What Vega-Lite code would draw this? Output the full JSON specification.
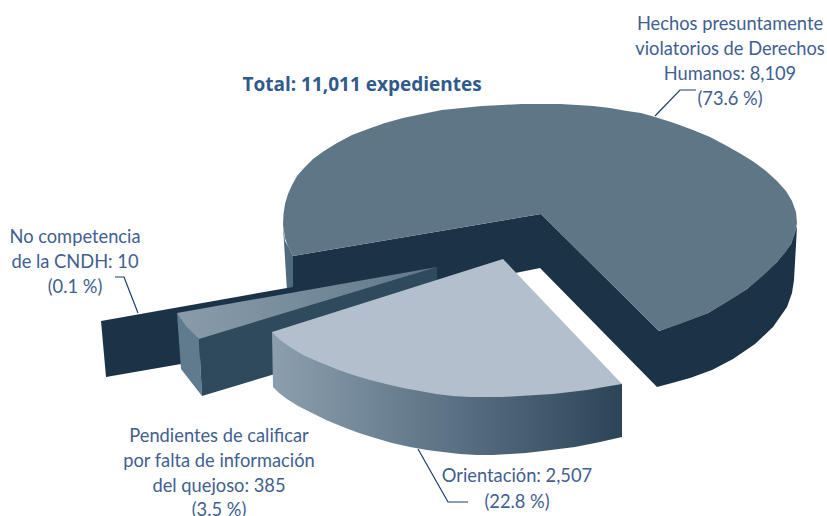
{"$schema":"https://vega.github.io/schema/vega-lite/v6.json","width":827,"height":516,"autosize":{"type":"none"},"padding":0,"background":"white","view":{"stroke":null},
"datasets":{"shapes":[
{"part":"leftwall","i":1,"x":283,"y":226},{"part":"leftwall","i":2,"x":285,"y":241},{"part":"leftwall","i":3,"x":293,"y":256},{"part":"leftwall","i":4,"x":296,"y":290},{"part":"leftwall","i":5,"x":287,"y":291},
{"part":"dark","i":1,"x":293,"y":256},{"part":"dark","i":2,"x":541,"y":214},{"part":"dark","i":3,"x":659,"y":331},{"part":"dark","i":4,"x":708,"y":313},{"part":"dark","i":5,"x":747,"y":289},{"part":"dark","i":6,"x":777,"y":262},{"part":"dark","i":7,"x":791,"y":244},{"part":"dark","i":8,"x":797,"y":226},{"part":"dark","i":9,"x":796,"y":245},{"part":"dark","i":10,"x":795,"y":262},{"part":"dark","i":11,"x":794,"y":280},{"part":"dark","i":12,"x":792,"y":293},{"part":"dark","i":13,"x":787,"y":307},{"part":"dark","i":14,"x":773,"y":327},{"part":"dark","i":15,"x":755,"y":344},{"part":"dark","i":16,"x":733,"y":359},{"part":"dark","i":17,"x":712,"y":370},{"part":"dark","i":18,"x":690,"y":378},{"part":"dark","i":19,"x":672,"y":383},{"part":"dark","i":20,"x":657,"y":387},{"part":"dark","i":21,"x":540,"y":268},{"part":"dark","i":22,"x":500,"y":276},{"part":"dark","i":23,"x":293,"y":310},
{"part":"top","i":1,"x":541,"y":214},{"part":"top","i":2,"x":293,"y":256},{"part":"top","i":3,"x":288,"y":247},{"part":"top","i":4,"x":285,"y":238},{"part":"top","i":5,"x":283,"y":225},{"part":"top","i":6,"x":283.5,"y":214},{"part":"top","i":7,"x":285,"y":204},{"part":"top","i":8,"x":288,"y":194},{"part":"top","i":9,"x":292,"y":185},{"part":"top","i":10,"x":297,"y":176},{"part":"top","i":11,"x":304,"y":168},{"part":"top","i":12,"x":313,"y":159},{"part":"top","i":13,"x":324,"y":151},{"part":"top","i":14,"x":337,"y":143},{"part":"top","i":15,"x":352,"y":135},{"part":"top","i":16,"x":368,"y":129},{"part":"top","i":17,"x":385,"y":123},{"part":"top","i":18,"x":403,"y":118},{"part":"top","i":19,"x":422,"y":114},{"part":"top","i":20,"x":442,"y":110},{"part":"top","i":21,"x":462,"y":108},{"part":"top","i":22,"x":482,"y":106},{"part":"top","i":23,"x":502,"y":105},{"part":"top","i":24,"x":522,"y":104},{"part":"top","i":25,"x":542,"y":104},{"part":"top","i":26,"x":560,"y":104},{"part":"top","i":27,"x":577,"y":105},{"part":"top","i":28,"x":593,"y":106},{"part":"top","i":29,"x":610,"y":108},{"part":"top","i":30,"x":627,"y":111},{"part":"top","i":31,"x":641,"y":113},{"part":"top","i":32,"x":655,"y":117},{"part":"top","i":33,"x":674,"y":123},{"part":"top","i":34,"x":693,"y":130},{"part":"top","i":35,"x":710,"y":137},{"part":"top","i":36,"x":727,"y":146},{"part":"top","i":37,"x":741,"y":154},{"part":"top","i":38,"x":754,"y":162},{"part":"top","i":39,"x":766,"y":171},{"part":"top","i":40,"x":777,"y":181},{"part":"top","i":41,"x":786,"y":191},{"part":"top","i":42,"x":792,"y":201},{"part":"top","i":43,"x":796,"y":212},{"part":"top","i":44,"x":797,"y":223},{"part":"top","i":45,"x":795,"y":234},{"part":"top","i":46,"x":791,"y":244},{"part":"top","i":47,"x":785,"y":253},{"part":"top","i":48,"x":777,"y":262},{"part":"top","i":49,"x":768,"y":271},{"part":"top","i":50,"x":758,"y":280},{"part":"top","i":51,"x":747,"y":289},{"part":"top","i":52,"x":735,"y":297},{"part":"top","i":53,"x":722,"y":305},{"part":"top","i":54,"x":708,"y":313},{"part":"top","i":55,"x":693,"y":319},{"part":"top","i":56,"x":677,"y":325},{"part":"top","i":57,"x":659,"y":331},
{"part":"slab","i":1,"x":101,"y":321},{"part":"slab","i":2,"x":287,"y":288},{"part":"slab","i":3,"x":437,"y":262},{"part":"slab","i":4,"x":437,"y":270},{"part":"slab","i":5,"x":181,"y":364},{"part":"slab","i":6,"x":106,"y":377},
{"part":"wedgeside","i":1,"x":177,"y":313},{"part":"wedgeside","i":2,"x":199,"y":339},{"part":"wedgeside","i":3,"x":202,"y":396},{"part":"wedgeside","i":4,"x":181,"y":369},
{"part":"wedgefront","i":1,"x":199,"y":339},{"part":"wedgefront","i":2,"x":437,"y":267},{"part":"wedgefront","i":3,"x":437,"y":290},{"part":"wedgefront","i":4,"x":275,"y":374},{"part":"wedgefront","i":5,"x":202,"y":396},
{"part":"wedgetop","i":1,"x":437,"y":267},{"part":"wedgetop","i":2,"x":177,"y":313},{"part":"wedgetop","i":3,"x":186,"y":326},{"part":"wedgetop","i":4,"x":199,"y":339},
{"part":"orientwall","i":1,"x":272,"y":332},{"part":"orientwall","i":2,"x":622,"y":384},{"part":"orientwall","i":3,"x":622,"y":437},{"part":"orientwall","i":4,"x":600,"y":442},{"part":"orientwall","i":5,"x":575,"y":447},{"part":"orientwall","i":6,"x":559,"y":449},{"part":"orientwall","i":7,"x":543,"y":451},{"part":"orientwall","i":8,"x":526,"y":453},{"part":"orientwall","i":9,"x":510,"y":454},{"part":"orientwall","i":10,"x":493,"y":455},{"part":"orientwall","i":11,"x":477,"y":455},{"part":"orientwall","i":12,"x":460,"y":454},{"part":"orientwall","i":13,"x":443,"y":452},{"part":"orientwall","i":14,"x":427,"y":450},{"part":"orientwall","i":15,"x":410,"y":447},{"part":"orientwall","i":16,"x":392,"y":443},{"part":"orientwall","i":17,"x":375,"y":438},{"part":"orientwall","i":18,"x":359,"y":433},{"part":"orientwall","i":19,"x":343,"y":427},{"part":"orientwall","i":20,"x":326,"y":420},{"part":"orientwall","i":21,"x":310,"y":412},{"part":"orientwall","i":22,"x":298,"y":406},{"part":"orientwall","i":23,"x":287,"y":399},{"part":"orientwall","i":24,"x":279,"y":393},{"part":"orientwall","i":25,"x":273,"y":387},
{"part":"orienttop","i":1,"x":503,"y":259},{"part":"orienttop","i":2,"x":272,"y":332},{"part":"orienttop","i":3,"x":280,"y":340},{"part":"orienttop","i":4,"x":290,"y":347},{"part":"orienttop","i":5,"x":303,"y":355},{"part":"orienttop","i":6,"x":319,"y":362},{"part":"orienttop","i":7,"x":336,"y":369},{"part":"orienttop","i":8,"x":353,"y":375},{"part":"orienttop","i":9,"x":370,"y":380},{"part":"orienttop","i":10,"x":386,"y":384},{"part":"orienttop","i":11,"x":403,"y":388},{"part":"orienttop","i":12,"x":420,"y":391},{"part":"orienttop","i":13,"x":436,"y":394},{"part":"orienttop","i":14,"x":453,"y":396},{"part":"orienttop","i":15,"x":470,"y":397},{"part":"orienttop","i":16,"x":487,"y":397},{"part":"orienttop","i":17,"x":503,"y":397},{"part":"orienttop","i":18,"x":520,"y":396},{"part":"orienttop","i":19,"x":536,"y":395},{"part":"orienttop","i":20,"x":553,"y":394},{"part":"orienttop","i":21,"x":570,"y":392},{"part":"orienttop","i":22,"x":587,"y":390},{"part":"orienttop","i":23,"x":604,"y":387},{"part":"orienttop","i":24,"x":622,"y":384},
{"part":"l1","i":1,"x":655,"y":116},{"part":"l1","i":2,"x":680,"y":90},{"part":"l1","i":3,"x":696,"y":90},
{"part":"l2","i":1,"x":115,"y":277},{"part":"l2","i":2,"x":124,"y":277},{"part":"l2","i":3,"x":138,"y":313},
{"part":"l3","i":1,"x":418,"y":449},{"part":"l3","i":2,"x":448,"y":502},{"part":"l3","i":3,"x":468,"y":502}
],
"labels":[
{"t":"Hechos presuntamente","x":730,"y":30},{"t":"violatorios de Derechos","x":730,"y":55},{"t":"Humanos: 8,109","x":730,"y":80},{"t":"(73.6 %)","x":730,"y":105},
{"t":"No competencia","x":75,"y":243},{"t":"de la CNDH: 10","x":75,"y":268},{"t":"(0.1 %)","x":75,"y":293},
{"t":"Pendientes de calificar","x":219,"y":442},{"t":"por falta de información","x":219,"y":467},{"t":"del quejoso: 385","x":219,"y":492},{"t":"(3.5 %)","x":219,"y":516},
{"t":"Orientación: 2,507","x":517,"y":482},{"t":"(22.8 %)","x":517,"y":508}
],
"title":[{"t":"Total: 11,011 expedientes","x":362,"y":91}]},
"encoding":{"x":{"field":"x","type":"quantitative","scale":{"domain":[0,827]},"axis":null},"y":{"field":"y","type":"quantitative","scale":{"domain":[516,0]},"axis":null},"order":{"field":"i","type":"ordinal"}},
"layer":[
{"data":{"name":"shapes"},"transform":[{"filter":"datum.part=='leftwall'"}],"mark":{"type":"line","fill":"#4f6a7d","strokeWidth":0,"clip":false}},
{"data":{"name":"shapes"},"transform":[{"filter":"datum.part=='dark'"}],"mark":{"type":"line","fill":"#1c3347","strokeWidth":0}},
{"data":{"name":"shapes"},"transform":[{"filter":"datum.part=='top'"}],"mark":{"type":"line","fill":"#5f7686","strokeWidth":0}},
{"data":{"name":"shapes"},"transform":[{"filter":"datum.part=='slab'"}],"mark":{"type":"line","fill":"#1c3347","strokeWidth":0}},
{"data":{"name":"shapes"},"transform":[{"filter":"datum.part=='wedgeside'"}],"mark":{"type":"line","fill":"#617b8e","strokeWidth":0}},
{"data":{"name":"shapes"},"transform":[{"filter":"datum.part=='wedgefront'"}],"mark":{"type":"line","fill":"#2e4a5c","strokeWidth":0}},
{"data":{"name":"shapes"},"transform":[{"filter":"datum.part=='wedgetop'"}],"mark":{"type":"line","strokeWidth":0,"fill":{"gradient":"linear","x1":0,"x2":1,"y1":0,"y2":0,"stops":[{"offset":0,"color":"#8a9cab"},{"offset":1,"color":"#5f7889"}]}}},
{"data":{"name":"shapes"},"transform":[{"filter":"datum.part=='orientwall'"}],"mark":{"type":"line","strokeWidth":0,"fill":{"gradient":"linear","x1":0,"x2":1,"y1":0,"y2":0,"stops":[{"offset":0,"color":"#8c9fae"},{"offset":0.5,"color":"#5c7385"},{"offset":1,"color":"#2c4556"}]}}},
{"data":{"name":"shapes"},"transform":[{"filter":"datum.part=='orienttop'"}],"mark":{"type":"line","fill":"#b3bfcc","strokeWidth":0}},
{"data":{"name":"shapes"},"transform":[{"filter":"datum.part=='l1'"}],"mark":{"type":"line","stroke":"#1a3d6d","strokeWidth":1.2}},
{"data":{"name":"shapes"},"transform":[{"filter":"datum.part=='l2'"}],"mark":{"type":"line","stroke":"#1a3d6d","strokeWidth":1.2}},
{"data":{"name":"shapes"},"transform":[{"filter":"datum.part=='l3'"}],"mark":{"type":"line","stroke":"#1a3d6d","strokeWidth":1.2}},
{"data":{"name":"labels"},"encoding":{"order":{"value":null},"text":{"field":"t"}},"mark":{"type":"text","font":"Lato","fontSize":18.3,"fill":"#3f6090","align":"center","baseline":"alphabetic"}},
{"data":{"name":"title"},"encoding":{"order":{"value":null},"text":{"field":"t"}},"mark":{"type":"text","font":"Open Sans","fontWeight":"bold","fontSize":19,"fill":"#2f5a8c","align":"center","baseline":"alphabetic"}}
]}
